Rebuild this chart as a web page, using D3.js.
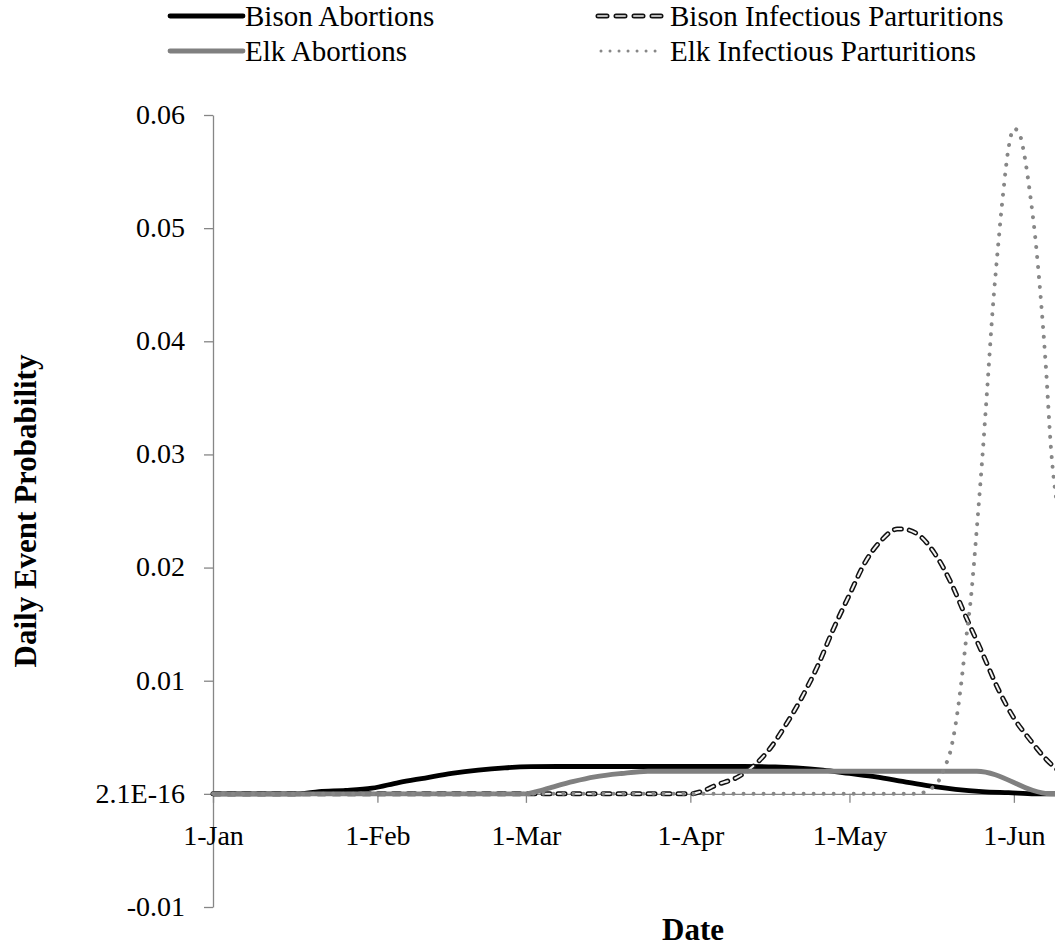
<!DOCTYPE html>
<html><head><meta charset="utf-8">
<script src="https://cdn.jsdelivr.net/npm/d3@7"></script>
<style>html,body{margin:0;padding:0;background:#fff;overflow:hidden} svg{display:block;overflow:hidden}</style>
</head><body><svg id="chart" width="1055" height="949"></svg>
<script>
// ---------- data ----------
const xTickLabels = ["1-Jan","1-Feb","1-Mar","1-Apr","1-May","1-Jun"];
const yTickValues = [-0.01, 0, 0.01, 0.02, 0.03, 0.04, 0.05, 0.06];
const yTickLabels = ["-0.01","2.1E-16","0.01","0.02","0.03","0.04","0.05","0.06"];
const seriesNames = ["Bison Abortions","Bison Infectious Parturitions","Elk Abortions","Elk Infectious Parturitions"];

// day of year (0 = 1-Jan) and daily probability
const bisonAbortDays = [0, 16, 20, 25, 30, 35, 40, 45, 50, 55, 60, 65, 100, 106, 110, 115, 120, 125, 130, 135, 140, 145, 150, 155, 160];
const bisonAbortVals = [0, 0, 0.0002, 0.0003, 0.0005, 0.0010, 0.0014, 0.0018, 0.0021, 0.0023, 0.0024, 0.00242, 0.00242, 0.00238, 0.0023, 0.0021, 0.0018, 0.0015, 0.0011, 0.0007, 0.0004, 0.0002, 0.0001, 0, 0];

const bisonInfDays = [0, 90, 92, 95, 99, 102, 105, 108, 111, 114, 117, 120, 123, 126, 129, 130, 133, 136, 139, 142, 145, 148, 151, 154, 157, 160];
const bisonInfVals = [0, 0, 0.0002, 0.0008, 0.0015, 0.0025, 0.0040, 0.0061, 0.0085, 0.0113, 0.0146, 0.0176, 0.0205, 0.0224, 0.0234, 0.0234, 0.0229, 0.0213, 0.0188, 0.0156, 0.0125, 0.0093, 0.0067, 0.0048, 0.0031, 0.0018];

const elkAbortDays = [0, 59, 61, 64, 68, 72, 77, 82, 144, 158, 160];
const elkAbortVals = [0, 0, 0.0002, 0.0006, 0.0011, 0.0015, 0.0018, 0.0020, 0.0020, 0, 0];

const elkInfDays = [0, 133, 135, 136.5, 138, 139, 140, 141, 142, 143, 144, 145, 146, 147, 148, 149, 150, 151, 152, 153, 154, 155, 156, 157, 158, 159];
const elkInfVals = [0, 0, 0.0004, 0.0009, 0.0024, 0.0037, 0.0061, 0.0095, 0.0137, 0.0178, 0.0234, 0.0294, 0.0360, 0.0428, 0.0483, 0.0532, 0.0571, 0.0588, 0.0584, 0.0564, 0.0532, 0.0493, 0.0442, 0.0380, 0.0305, 0.0260];

// ---------- scales ----------
const svg = d3.select("#chart");
const W = 1055, H = 949;
svg.append("rect").attr("width", W).attr("height", H).attr("fill", "#fff");

const yearStart = Date.UTC(2010, 0, 1);
const dayToDate = d => new Date(yearStart + d * 86400000);
const x = d3.scaleUtc().domain([dayToDate(0), dayToDate(181)]).range([213, 1173]);
const y = d3.scaleLinear().domain([-0.01, 0.06]).range([907, 115]);

const axisColor = "#868686";
const serif = "'Liberation Serif','Times New Roman',serif";

// ---------- axes ----------
const yAxis = d3.axisLeft(y).tickValues(yTickValues)
  .tickFormat((d, i) => yTickLabels[i]).tickSize(9).tickSizeOuter(0).tickPadding(19);
const gy = svg.append("g").attr("transform", "translate(213,0)").call(yAxis);
gy.select(".domain").attr("stroke", axisColor).attr("stroke-width", 1.3);
gy.selectAll(".tick line").attr("stroke", axisColor).attr("stroke-width", 1.3);
gy.selectAll(".tick text").attr("font-family", serif).attr("font-size", 28).attr("fill", "#000").attr("dy", "0.3em");

const monthDates = d3.utcMonth.range(dayToDate(0), dayToDate(152));
const xAxis = d3.axisBottom(x).tickValues(monthDates)
  .tickFormat((d, i) => xTickLabels[i]).tickSize(9).tickSizeOuter(0);
const gx = svg.append("g").attr("transform", `translate(0,${y(0)})`).call(xAxis);
gx.select(".domain").attr("stroke", axisColor).attr("stroke-width", 1.3);
gx.selectAll(".tick line").attr("stroke", axisColor).attr("stroke-width", 1.3);
gx.selectAll(".tick text").attr("font-family", serif).attr("font-size", 28).attr("fill", "#000")
  .attr("y", 51).attr("dy", 0);

// axis titles
svg.append("text").attr("x", 693).attr("y", 940).attr("text-anchor", "middle")
  .attr("font-family", serif).attr("font-size", 31).attr("font-weight", "bold").text("Date");
svg.append("text").attr("transform", "translate(36,511) rotate(-90)").attr("text-anchor", "middle")
  .attr("font-family", serif).attr("font-size", 31).attr("font-weight", "bold").text("Daily Event Probability");

// ---------- lines ----------
const toPts = (days, vals) => days.map((d, i) => [dayToDate(d), vals[i]]);
const line = d3.line().x(d => x(d[0])).y(d => y(d[1])).curve(d3.curveMonotoneX);

const plot = svg.append("g");
// Bison abortions
plot.append("path").attr("d", line(toPts(bisonAbortDays, bisonAbortVals)))
  .attr("fill", "none").attr("stroke", "#000").attr("stroke-width", 4.8).attr("stroke-linejoin", "round");
// Bison infectious parturitions (outlined dashes)
const bip = line(toPts(bisonInfDays, bisonInfVals));
plot.append("path").attr("d", bip).attr("fill", "none").attr("stroke", "#111").attr("stroke-width", 5)
  .attr("stroke-dasharray", "7 8").attr("stroke-linecap", "round");
plot.append("path").attr("d", bip).attr("fill", "none").attr("stroke", "#f2f2f2").attr("stroke-width", 2)
  .attr("stroke-dasharray", "7 8").attr("stroke-linecap", "round");
// Elk abortions
plot.append("path").attr("d", line(toPts(elkAbortDays, elkAbortVals)))
  .attr("fill", "none").attr("stroke", "#808080").attr("stroke-width", 4.8).attr("stroke-linejoin", "round");
// Elk infectious parturitions (dotted)
plot.append("path").attr("d", line(toPts(elkInfDays, elkInfVals)))
  .attr("fill", "none").attr("stroke", "#878787").attr("stroke-width", 4)
  .attr("stroke-dasharray", "0.01 10").attr("stroke-linecap", "round");

// ---------- legend ----------
const legendItems = [
  {name: seriesNames[0], x: 170, cy: 16, type: "solid", color: "#000"},
  {name: seriesNames[1], x: 595, cy: 16, type: "dash", color: "#111"},
  {name: seriesNames[2], x: 170, cy: 51, type: "solid", color: "#808080"},
  {name: seriesNames[3], x: 595, cy: 51, type: "dot", color: "#878787"}
];
const lg = svg.append("g");
legendItems.forEach(it => {
  const x1 = it.x, x2 = it.x + 73;
  if (it.type === "solid") {
    lg.append("line").attr("x1", x1).attr("x2", x2).attr("y1", it.cy).attr("y2", it.cy)
      .attr("stroke", it.color).attr("stroke-width", 4.8).attr("stroke-linecap", "round");
  } else if (it.type === "dash") {
    lg.append("line").attr("x1", x1 + 3).attr("x2", x2).attr("y1", it.cy).attr("y2", it.cy)
      .attr("stroke", it.color).attr("stroke-width", 5).attr("stroke-dasharray", "9 9").attr("stroke-linecap", "round");
    lg.append("line").attr("x1", x1 + 3).attr("x2", x2).attr("y1", it.cy).attr("y2", it.cy)
      .attr("stroke", "#bbbbbb").attr("stroke-width", 2).attr("stroke-dasharray", "9 9").attr("stroke-linecap", "round");
  } else {
    lg.append("line").attr("x1", x1 + 6).attr("x2", x2 - 6).attr("y1", it.cy).attr("y2", it.cy)
      .attr("stroke", it.color).attr("stroke-width", 3).attr("stroke-dasharray", "0.01 9").attr("stroke-linecap", "round");
  }
  lg.append("text").attr("x", x2 + 2).attr("y", it.cy + 9.5).attr("font-family", serif).attr("font-size", 29)
    .attr("fill", "#000").text(it.name);
});
</script></body></html>
